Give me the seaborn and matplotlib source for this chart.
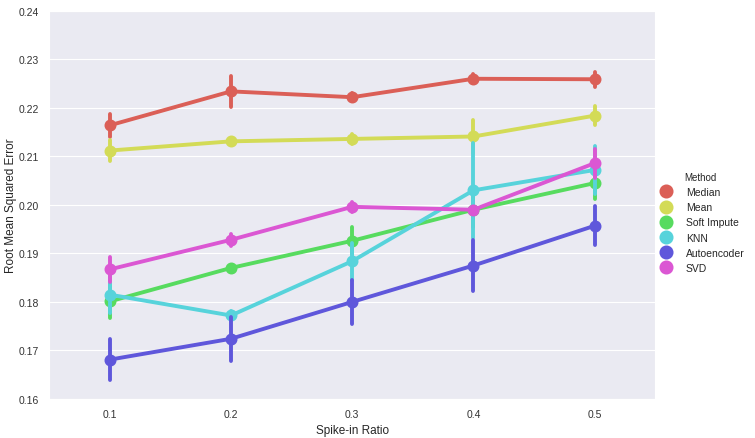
import numpy as np
import pandas as pd
import matplotlib
matplotlib.use("Agg")
import matplotlib.pyplot as plt
import seaborn as sns

ratios = ["0.1", "0.2", "0.3", "0.4", "0.5"]
methods = ["Median", "Mean", "Soft Impute", "KNN", "Autoencoder", "SVD"]

# mean RMSE per method and spike-in ratio
rmse = {
    "Median":      [0.2164, 0.2234, 0.2222, 0.2260, 0.2259],
    "Mean":        [0.2112, 0.2131, 0.2136, 0.2141, 0.2184],
    "Soft Impute": [0.1801, 0.1870, 0.1926, 0.1990, 0.2045],
    "KNN":         [0.1815, 0.1772, 0.1884, 0.2030, 0.2072],
    "Autoencoder": [0.1681, 0.1724, 0.1800, 0.1875, 0.1957],
    "SVD":         [0.1867, 0.1928, 0.1996, 0.1990, 0.2086],
}
# half length of the error bars
err = {
    "Median":      [0.0024, 0.0032, 0.0008, 0.0009, 0.0015],
    "Mean":        [0.0022, 0.0005, 0.0010, 0.0035, 0.0020],
    "Soft Impute": [0.0035, 0.0005, 0.0028, 0.0035, 0.0033],
    "KNN":         [0.0038, 0.0010, 0.0038, 0.0098, 0.0050],
    "Autoencoder": [0.0043, 0.0045, 0.0045, 0.0053, 0.0040],
    "SVD":         [0.0025, 0.0012, 0.0010, 0.0005, 0.0030],
}

# long table: low / value / high per point -> median estimator, full range bars
rows = []
for m in methods:
    for r, v, e in zip(ratios, rmse[m], err[m]):
        for val in (v - e, v, v + e):
            rows.append({"Spike-in Ratio": r, "RMSE": val, "Method": m})
df = pd.DataFrame(rows)

sns.set_style("darkgrid")
plt.rcParams["font.family"] = ["Liberation Sans", "DejaVu Sans"]

fig = plt.figure(figsize=(7.55, 4.39), dpi=100)
ax = fig.add_axes([0.065, 0.089, 0.803, 0.884])

sns.pointplot(data=df, x="Spike-in Ratio", y="RMSE", hue="Method",
              hue_order=methods, order=ratios,
              estimator="median", errorbar=("pi", 100),
              palette=sns.color_palette("hls", 6),
              markersize=6.5, linewidth=2.8,
              err_kws={"linewidth": 2.8}, ax=ax)

ax.set_ylim(0.16, 0.24)
ax.set_yticks(np.arange(0.16, 0.2401, 0.01))
ax.set_yticklabels([f"{t:.2f}" for t in np.arange(0.16, 0.2401, 0.01)])
ax.set_xlabel("Spike-in Ratio", fontsize=8.5, labelpad=3)
ax.set_ylabel("Root Mean Squared Error", fontsize=8.5, labelpad=1)
ax.tick_params(labelsize=7.5, colors="#333333", pad=4)
ax.grid(axis="x", visible=False)

handles, labels = ax.get_legend_handles_labels()
for h in handles:
    h.set_linestyle("")
    h.set_markersize(8)
ax.legend(handles, labels, title="Method", frameon=False, fontsize=7.5,
          title_fontsize=7, loc="center left", bbox_to_anchor=(0.985, 0.455),
          handletextpad=0.9, labelspacing=0.5)

fig.savefig("out.png", dpi=100)
